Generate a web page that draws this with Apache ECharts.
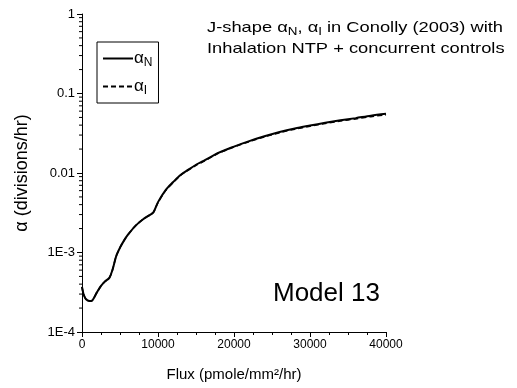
<!DOCTYPE html>
<html><head><meta charset="utf-8">
<script src="https://cdn.jsdelivr.net/npm/echarts@6/dist/echarts.min.js"></script>
<style>html,body{margin:0;padding:0;background:#fff}#c{width:517px;height:388px}</style>
</head><body><div id="c"></div>
<script>
const flux = [0, 200, 500, 1000, 1200, 2000, 2500, 3000, 3600, 4000, 4500, 5000, 5500, 6000, 7000, 8000, 9000, 9400, 10000, 11000, 12000, 13000, 14000, 15000, 16000, 18000, 20000, 22000, 24000, 26000, 28000, 30000, 32000, 34000, 36000, 38000, 40000];
const alphaN = [3.7e-4, 3.0e-4, 2.6e-4, 2.45e-4, 2.45e-4, 3.2e-4, 3.8e-4, 4.3e-4, 4.8e-4, 6.0e-4, 9.0e-4, 1.15e-3, 1.4e-3, 1.65e-3, 2.15e-3, 2.6e-3, 3.0e-3, 3.2e-3, 4.3e-3, 6.1e-3, 7.7e-3, 9.5e-3, 1.1e-2, 1.27e-2, 1.42e-2, 1.8e-2, 2.15e-2, 2.52e-2, 2.9e-2, 3.28e-2, 3.63e-2, 3.95e-2, 4.28e-2, 4.6e-2, 4.9e-2, 5.25e-2, 5.55e-2];
const alphaI = [3.7e-4, 3.0e-4, 2.6e-4, 2.45e-4, 2.45e-4, 3.2e-4, 3.8e-4, 4.3e-4, 4.8e-4, 6.0e-4, 9.0e-4, 1.15e-3, 1.4e-3, 1.65e-3, 2.15e-3, 2.6e-3, 3.0e-3, 3.2e-3, 4.25e-3, 6.0e-3, 7.6e-3, 9.4e-3, 1.09e-2, 1.25e-2, 1.4e-2, 1.78e-2, 2.12e-2, 2.48e-2, 2.85e-2, 3.22e-2, 3.56e-2, 3.88e-2, 4.2e-2, 4.5e-2, 4.8e-2, 5.12e-2, 5.4e-2];
const yTickLabels = {'1': '1', '0.1': '0.1', '0.01': '0.01', '0.001': '1E-3', '0.0001': '1E-4'};
const yMinorTicks = [];
[1e-4, 1e-3, 1e-2, 1e-1].forEach(d => { for (let k = 2; k <= 9; k++) yMinorTicks.push(+(d * k).toPrecision(3)); });

const FONT = '"Liberation Sans", Arial, sans-serif';
const chart = echarts.init(document.getElementById('c'));
const subRich = {
  a: {fontFamily: FONT, fontSize: 17, color: '#000'},
  s: {fontFamily: FONT, fontSize: 12, color: '#000', padding: [9, 0, 0, 0]}
};
chart.setOption({
  animation: false,
  backgroundColor: '#fff',
  grid: {left: 82, right: 131, top: 14, bottom: 56},
  xAxis: {
    type: 'value', min: 0, max: 40000, interval: 10000,
    name: 'Flux (pmole/mm²/hr)', nameLocation: 'middle', nameGap: 35,
    nameTextStyle: {fontFamily: FONT, fontSize: 15, color: '#000'},
    axisLine: {lineStyle: {color: '#000', width: 1}},
    axisTick: {inside: false, length: 5, lineStyle: {color: '#000'}},
    minorTick: {show: true, splitNumber: 4, length: 3, lineStyle: {color: '#000'}},
    axisLabel: {fontFamily: FONT, fontSize: 12, color: '#000', margin: 7, formatter: v => String(v)},
    splitLine: {show: false}
  },
  yAxis: {
    type: 'log', min: 1e-4, max: 1, logBase: 10,
    name: 'α (divisions/hr)', nameLocation: 'middle', nameGap: 51,
    nameTextStyle: {fontFamily: FONT, fontSize: 18, color: '#000'},
    axisLine: {show: true, lineStyle: {color: '#000', width: 1}},
    axisTick: {show: true, length: 5, lineStyle: {color: '#000'}},
    axisLabel: {fontFamily: FONT, fontSize: 13, color: '#000', margin: 7,
      formatter: v => yTickLabels[String(+v.toPrecision(3))] || ''},
    splitLine: {show: false}
  },
  legend: {
    left: 97, top: 42, orient: 'vertical', itemWidth: 30, itemHeight: 10, itemGap: 9,
    borderColor: '#000', borderWidth: 1, borderRadius: 0, padding: [8, 6, 6, 5],
    data: ['αN', 'αI'],
    itemStyle: {color: 'transparent', borderWidth: 0, opacity: 0},
    formatter: n => '{a|α}{s|' + n.slice(1) + '}',
    textStyle: {rich: subRich, padding: [0, 0, 0, -4]}
  },
  series: [
    {name: 'αN', type: 'line', data: flux.map((x, i) => [x, alphaN[i]]), showSymbol: false, symbol: 'none',
      smooth: 0.3, lineStyle: {color: '#000', width: 2, type: 'solid'}, itemStyle: {color: '#000'}},
    {name: 'αI', type: 'line', data: flux.map((x, i) => [x, alphaI[i]]), showSymbol: false, symbol: 'none',
      smooth: 0.3, lineStyle: {color: '#000', width: 1.6, type: [5, 3]}, itemStyle: {color: '#000'}},
    {type: 'custom', clip: false, silent: true, data: yMinorTicks.map(v => [0, v]),
      renderItem: (params, api) => {
        const p = api.coord([api.value(0), api.value(1)]);
        return {type: 'line', shape: {x1: p[0] - 3, y1: p[1], x2: p[0], y2: p[1]}, style: {stroke: '#000', lineWidth: 1}};
      }}
  ],
  graphic: [
    {type: 'text', x: 207, y: 28, scaleX: 1.22, style: {
      rich: {t: {fontFamily: FONT, fontSize: 15, fill: '#000'}, s: {fontFamily: FONT, fontSize: 11, fill: '#000', padding: [7, 0, 0, 0]}},
      text: '{t|J-shape α}{s|N}{t|, α}{s|I}{t| in Conolly (2003) with}', textVerticalAlign: 'middle'}},
    {type: 'text', x: 207, y: 48.5, scaleX: 1.22, style: {text: 'Inhalation NTP + concurrent controls', fontFamily: FONT, fontSize: 15, fill: '#000', textVerticalAlign: 'middle'}},
    {type: 'text', x: 273, y: 294, style: {text: 'Model 13', fontFamily: FONT, fontSize: 26, fill: '#000', textVerticalAlign: 'middle'}}
  ]
});
</script></body></html>
